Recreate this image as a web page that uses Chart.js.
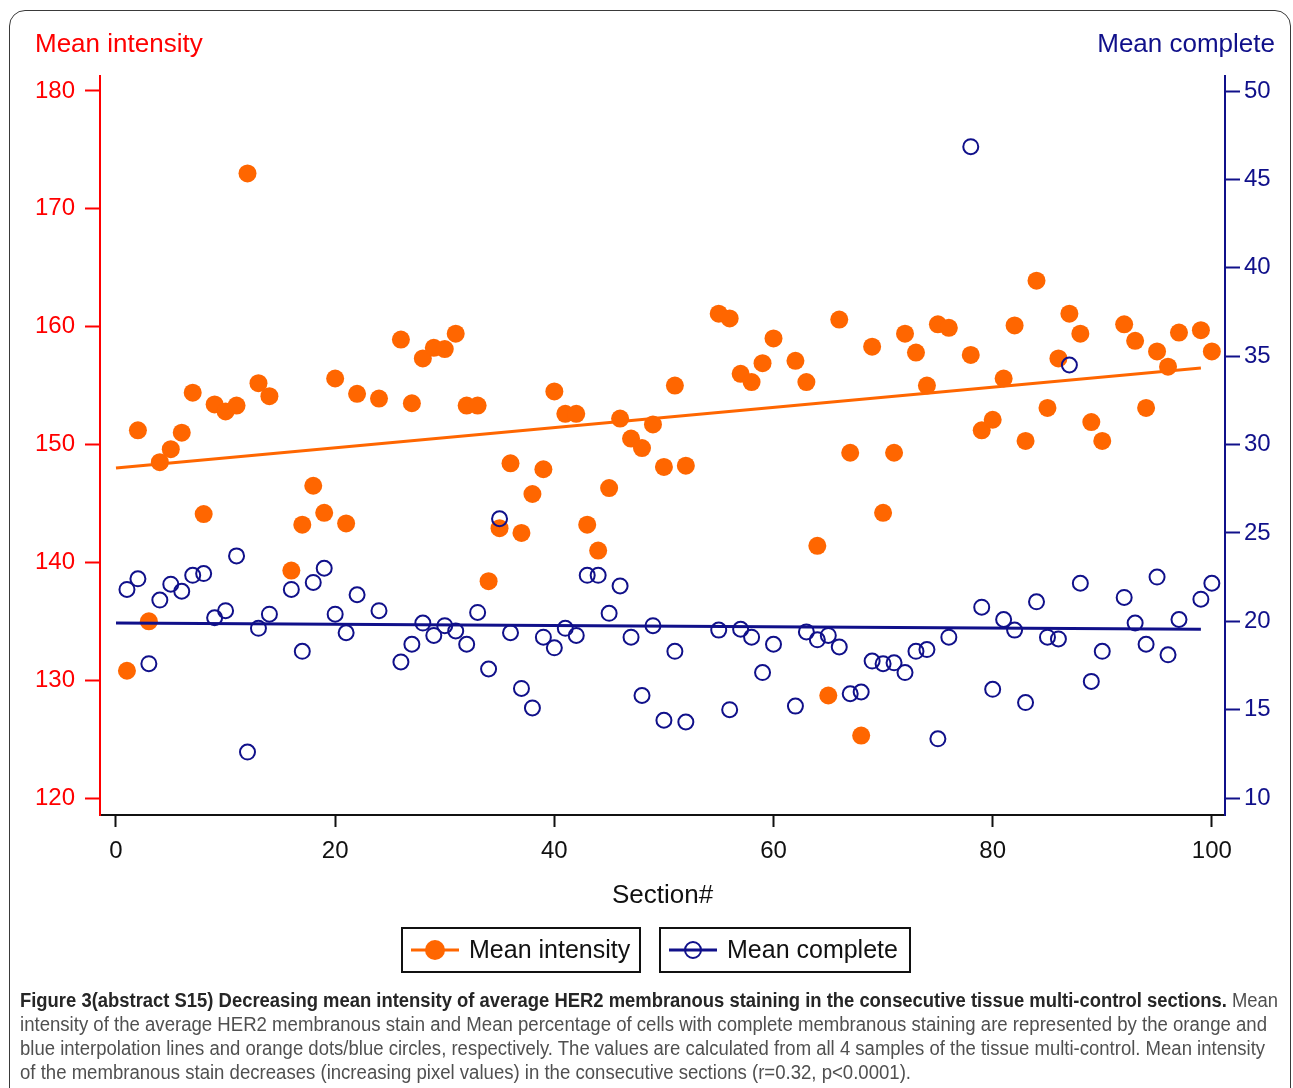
<!DOCTYPE html>
<html>
<head>
<meta charset="utf-8">
<title>Mean intensity / Mean complete by section</title>
<script src="https://cdn.jsdelivr.net/npm/chart.js@4.4.1/dist/chart.umd.min.js"></script>
<style>
    body { margin: 0; background: #fff; }
    #frame {
        position: absolute; left: 9px; top: 10px; width: 1282px; height: 1120px;
        border: 1.5px solid #3a3a3a; border-radius: 16px; box-sizing: border-box;
    }
    #chart { position: absolute; left: 0; top: 0; }
    #caption {
        position: absolute; left: 20px; top: 988px;
        font-family: "Liberation Sans Narrow", "Liberation Sans", Arial, sans-serif;
        font-size: 20px; color: #505050;
    }
    #caption .line { height: 24px; line-height: 24px; white-space: nowrap; transform-origin: 0 50%; }
    #caption b { color: #262626; }
</style>
</head>
<body>
<div id="frame"></div>
<canvas id="chart" width="1293" height="990"></canvas>
<div id="caption">
    <div class="line"><span><b>Figure 3(abstract S15) Decreasing mean intensity of average HER2 membranous staining in the consecutive tissue multi-control sections.</b> Mean</span></div>
    <div class="line"><span>intensity of the average HER2 membranous stain and Mean percentage of cells with complete membranous staining are represented by the orange and</span></div>
    <div class="line"><span>blue interpolation lines and orange dots/blue circles, respectively. The values are calculated from all 4 samples of the tissue multi-control. Mean intensity</span></div>
    <div class="line"><span>of the membranous stain decreases (increasing pixel values) in the consecutive sections (r=0.32, p&lt;0.0001).</span></div>
</div>
<script>
// Section numbers with a measurement
const sections = [1, 2, 3, 4, 5, 6, 7, 8, 9, 10, 11, 12, 13, 14, 16, 17, 18, 19, 20, 21,
    22, 24, 26, 27, 28, 29, 30, 31, 32, 33, 34, 35, 36, 37, 38, 39, 40, 41, 42, 43,
    44, 45, 46, 47, 48, 49, 50, 51, 52, 55, 56, 57, 58, 59, 60, 62, 63, 64, 65, 66,
    67, 68, 69, 70, 71, 72, 73, 74, 75, 76, 78, 79, 80, 81, 82, 83, 84, 85, 86, 87,
    88, 89, 90, 92, 93, 94, 95, 96, 97, 99, 100];

// Mean intensity (left axis)
const meanIntensity = [130.8, 151.2, 135.0, 148.5, 149.6, 151.0, 154.4, 144.1, 153.4, 152.8,
    153.3, 173.0, 155.2, 154.1, 139.3, 143.2, 146.5, 144.2, 155.6, 143.3,
    154.3, 153.9, 158.9, 153.5, 157.3, 158.2, 158.1, 159.4, 153.3, 153.3,
    138.4, 142.9, 148.4, 142.5, 145.8, 147.9, 154.5, 152.6, 152.6, 143.2,
    141.0, 146.3, 152.2, 150.5, 149.7, 151.7, 148.1, 155.0, 148.2, 161.1,
    160.7, 156.0, 155.3, 156.9, 159.0, 157.1, 155.3, 141.4, 128.7, 160.6,
    149.3, 125.3, 158.3, 144.2, 149.3, 159.4, 157.8, 155.0, 160.2, 159.9,
    157.6, 151.2, 152.1, 155.6, 160.1, 150.3, 163.9, 153.1, 157.3, 161.1,
    159.4, 151.9, 150.3, 160.2, 158.8, 153.1, 157.9, 156.6, 159.5, 159.7, 157.9];

// Mean complete (right axis)
const meanComplete = [21.8, 22.4, 17.6, 21.2, 22.1, 21.7, 22.6, 22.7, 20.2, 20.6,
    23.7, 12.6, 19.6, 20.4, 21.8, 18.3, 22.2, 23.0, 20.4, 19.35,
    21.5, 20.6, 17.7, 18.7, 19.9, 19.2, 19.75, 19.45, 18.7, 20.5,
    17.3, 25.8, 19.35, 16.2, 15.1, 19.1, 18.5, 19.6, 19.2, 22.6,
    22.6, 20.45, 22.0, 19.1, 15.8, 19.75, 14.4, 18.3, 14.3, 19.5,
    15.0, 19.55, 19.1, 17.1, 18.7, 15.2, 19.4, 18.95, 19.2, 18.55,
    15.9, 16.0, 17.75, 17.6, 17.65, 17.1, 18.3, 18.4, 13.35, 19.1,
    46.85, 20.8, 16.15, 20.1, 19.5, 15.4, 21.1, 19.1, 19.0, 34.5,
    22.15, 16.6, 18.3, 21.35, 19.9, 18.7, 22.5, 18.1, 20.1, 21.25, 22.15];

// Regression line end points
const trendX = [0, 99];
const intensityTrend = [148.0, 156.5];
const completeTrend = [19.9, 19.55];

// Tick values
const sectionTicks = [0, 20, 40, 60, 80, 100];
const intensityTicks = [120, 130, 140, 150, 160, 170, 180];
const completeTicks = [10, 15, 20, 25, 30, 35, 40, 45, 50];

// Caption line widths in px
const captionWidths = [1258, 1247, 1245, 891];

const ORANGE = '#ff6600';
const NAVY = '#10108a';
const RED = '#ff0000';
const FONT = '"Liberation Sans", Arial, sans-serif';

Chart.defaults.font.family = FONT;

function toPoints(xs, ys) {
    return xs.map(function(x, i) { return {x: x, y: ys[i]}; });
}

function setTicks(values) {
    return function(scale) {
        scale.ticks = values.map(function(v) { return {value: v}; });
    };
}

// Headers above the two value axes
const axisHeaders = {
    id: 'axisHeaders',
    afterDraw(chart) {
        const ctx = chart.ctx;
        ctx.save();
        ctx.font = '26px ' + FONT;
        ctx.textBaseline = 'alphabetic';
        ctx.fillStyle = RED;
        ctx.textAlign = 'left';
        ctx.fillText('Mean intensity', 35, 52);
        ctx.fillStyle = NAVY;
        ctx.textAlign = 'right';
        ctx.fillText('Mean complete', 1275, 52);
        ctx.restore();
    }
};

// Legend: each entry in its own framed box
const boxedLegend = {
    id: 'boxedLegend',
    afterDraw(chart) {
        const ctx = chart.ctx;
        const items = [
            {left: 402, width: 238, label: 'Mean intensity', color: ORANGE, filled: true},
            {left: 660, width: 250, label: 'Mean complete', color: NAVY, filled: false}
        ];
        const top = 928, height = 44, mid = top + height / 2;
        ctx.save();
        for (const item of items) {
            ctx.lineWidth = 2;
            ctx.strokeStyle = '#111';
            ctx.strokeRect(item.left, top, item.width, height);

            ctx.strokeStyle = item.color;
            ctx.lineWidth = 3;
            ctx.beginPath();
            ctx.moveTo(item.left + 9, mid);
            ctx.lineTo(item.left + 57, mid);
            ctx.stroke();

            ctx.beginPath();
            if (item.filled) {
                ctx.arc(item.left + 33, mid, 10, 0, Math.PI * 2);
                ctx.fillStyle = item.color;
                ctx.fill();
            } else {
                ctx.arc(item.left + 33, mid, 8, 0, Math.PI * 2);
                ctx.lineWidth = 2;
                ctx.stroke();
            }

            ctx.fillStyle = '#111';
            ctx.font = '25px ' + FONT;
            ctx.textAlign = 'left';
            ctx.textBaseline = 'middle';
            ctx.fillText(item.label, item.left + 67, mid + 1);
        }
        ctx.restore();
    }
};

let myChart = new Chart(document.getElementById('chart'), {
    type: 'scatter',
    data: {
        datasets: [
            {
                label: 'Mean complete',
                data: toPoints(sections, meanComplete),
                yAxisID: 'yRight',
                order: 0,
                pointRadius: 7.5,
                pointBorderWidth: 2,
                pointBorderColor: NAVY,
                pointBackgroundColor: 'rgba(0,0,0,0)'
            },
            {
                label: 'Mean complete trend',
                data: toPoints(trendX, completeTrend),
                yAxisID: 'yRight',
                order: 1,
                showLine: true,
                borderColor: NAVY,
                borderWidth: 3,
                pointRadius: 0
            },
            {
                label: 'Mean intensity',
                data: toPoints(sections, meanIntensity),
                yAxisID: 'yLeft',
                order: 2,
                pointRadius: 9,
                pointBorderWidth: 0,
                pointBorderColor: ORANGE,
                pointBackgroundColor: ORANGE
            },
            {
                label: 'Mean intensity trend',
                data: toPoints(trendX, intensityTrend),
                yAxisID: 'yLeft',
                order: 3,
                showLine: true,
                borderColor: ORANGE,
                borderWidth: 3,
                pointRadius: 0
            }
        ]
    },
    options: {
        responsive: false,
        animation: false,
        events: [],
        layout: { padding: { top: 76, left: 0, right: 0, bottom: 70 } },
        plugins: {
            legend: { display: false },
            tooltip: { enabled: false }
        },
        scales: {
            x: {
                type: 'linear',
                position: 'bottom',
                min: -1.46,
                max: 101.2,
                afterBuildTicks: setTicks(sectionTicks),
                afterFit: function(scale) { scale.height = 105; },
                ticks: { color: '#111', font: { size: 24 }, padding: 10, maxRotation: 0 },
                grid: { drawOnChartArea: false, drawTicks: true, tickLength: 12, tickColor: '#111', tickWidth: 2 },
                border: { display: true, color: '#111', width: 2 },
                title: {
                    display: true,
                    text: 'Section#',
                    color: '#111',
                    font: { size: 26 },
                    padding: { top: 0, bottom: 9 }
                }
            },
            yLeft: {
                type: 'linear',
                position: 'left',
                min: 118.56,
                max: 181.27,
                afterBuildTicks: setTicks(intensityTicks),
                afterFit: function(scale) { scale.width = 100; },
                ticks: { color: RED, font: { size: 24 }, padding: 10 },
                grid: { drawOnChartArea: false, drawTicks: true, tickLength: 15, tickColor: RED, tickWidth: 2 },
                border: { display: true, color: RED, width: 2 }
            },
            yRight: {
                type: 'linear',
                position: 'right',
                min: 9.04,
                max: 50.85,
                afterBuildTicks: setTicks(completeTicks),
                afterFit: function(scale) { scale.width = 68; },
                ticks: { color: NAVY, font: { size: 24 }, padding: 4 },
                grid: { drawOnChartArea: false, drawTicks: true, tickLength: 15, tickColor: NAVY, tickWidth: 2 },
                border: { display: true, color: NAVY, width: 2 }
            }
        }
    },
    plugins: [axisHeaders, boxedLegend]
});

// Stretch each caption line to its column width
document.querySelectorAll('#caption .line').forEach(function(line, i) {
    let w = line.firstElementChild.getBoundingClientRect().width;
    line.style.transform = 'scaleX(' + (captionWidths[i] / w).toFixed(4) + ')';
});
</script>
</body>
</html>
